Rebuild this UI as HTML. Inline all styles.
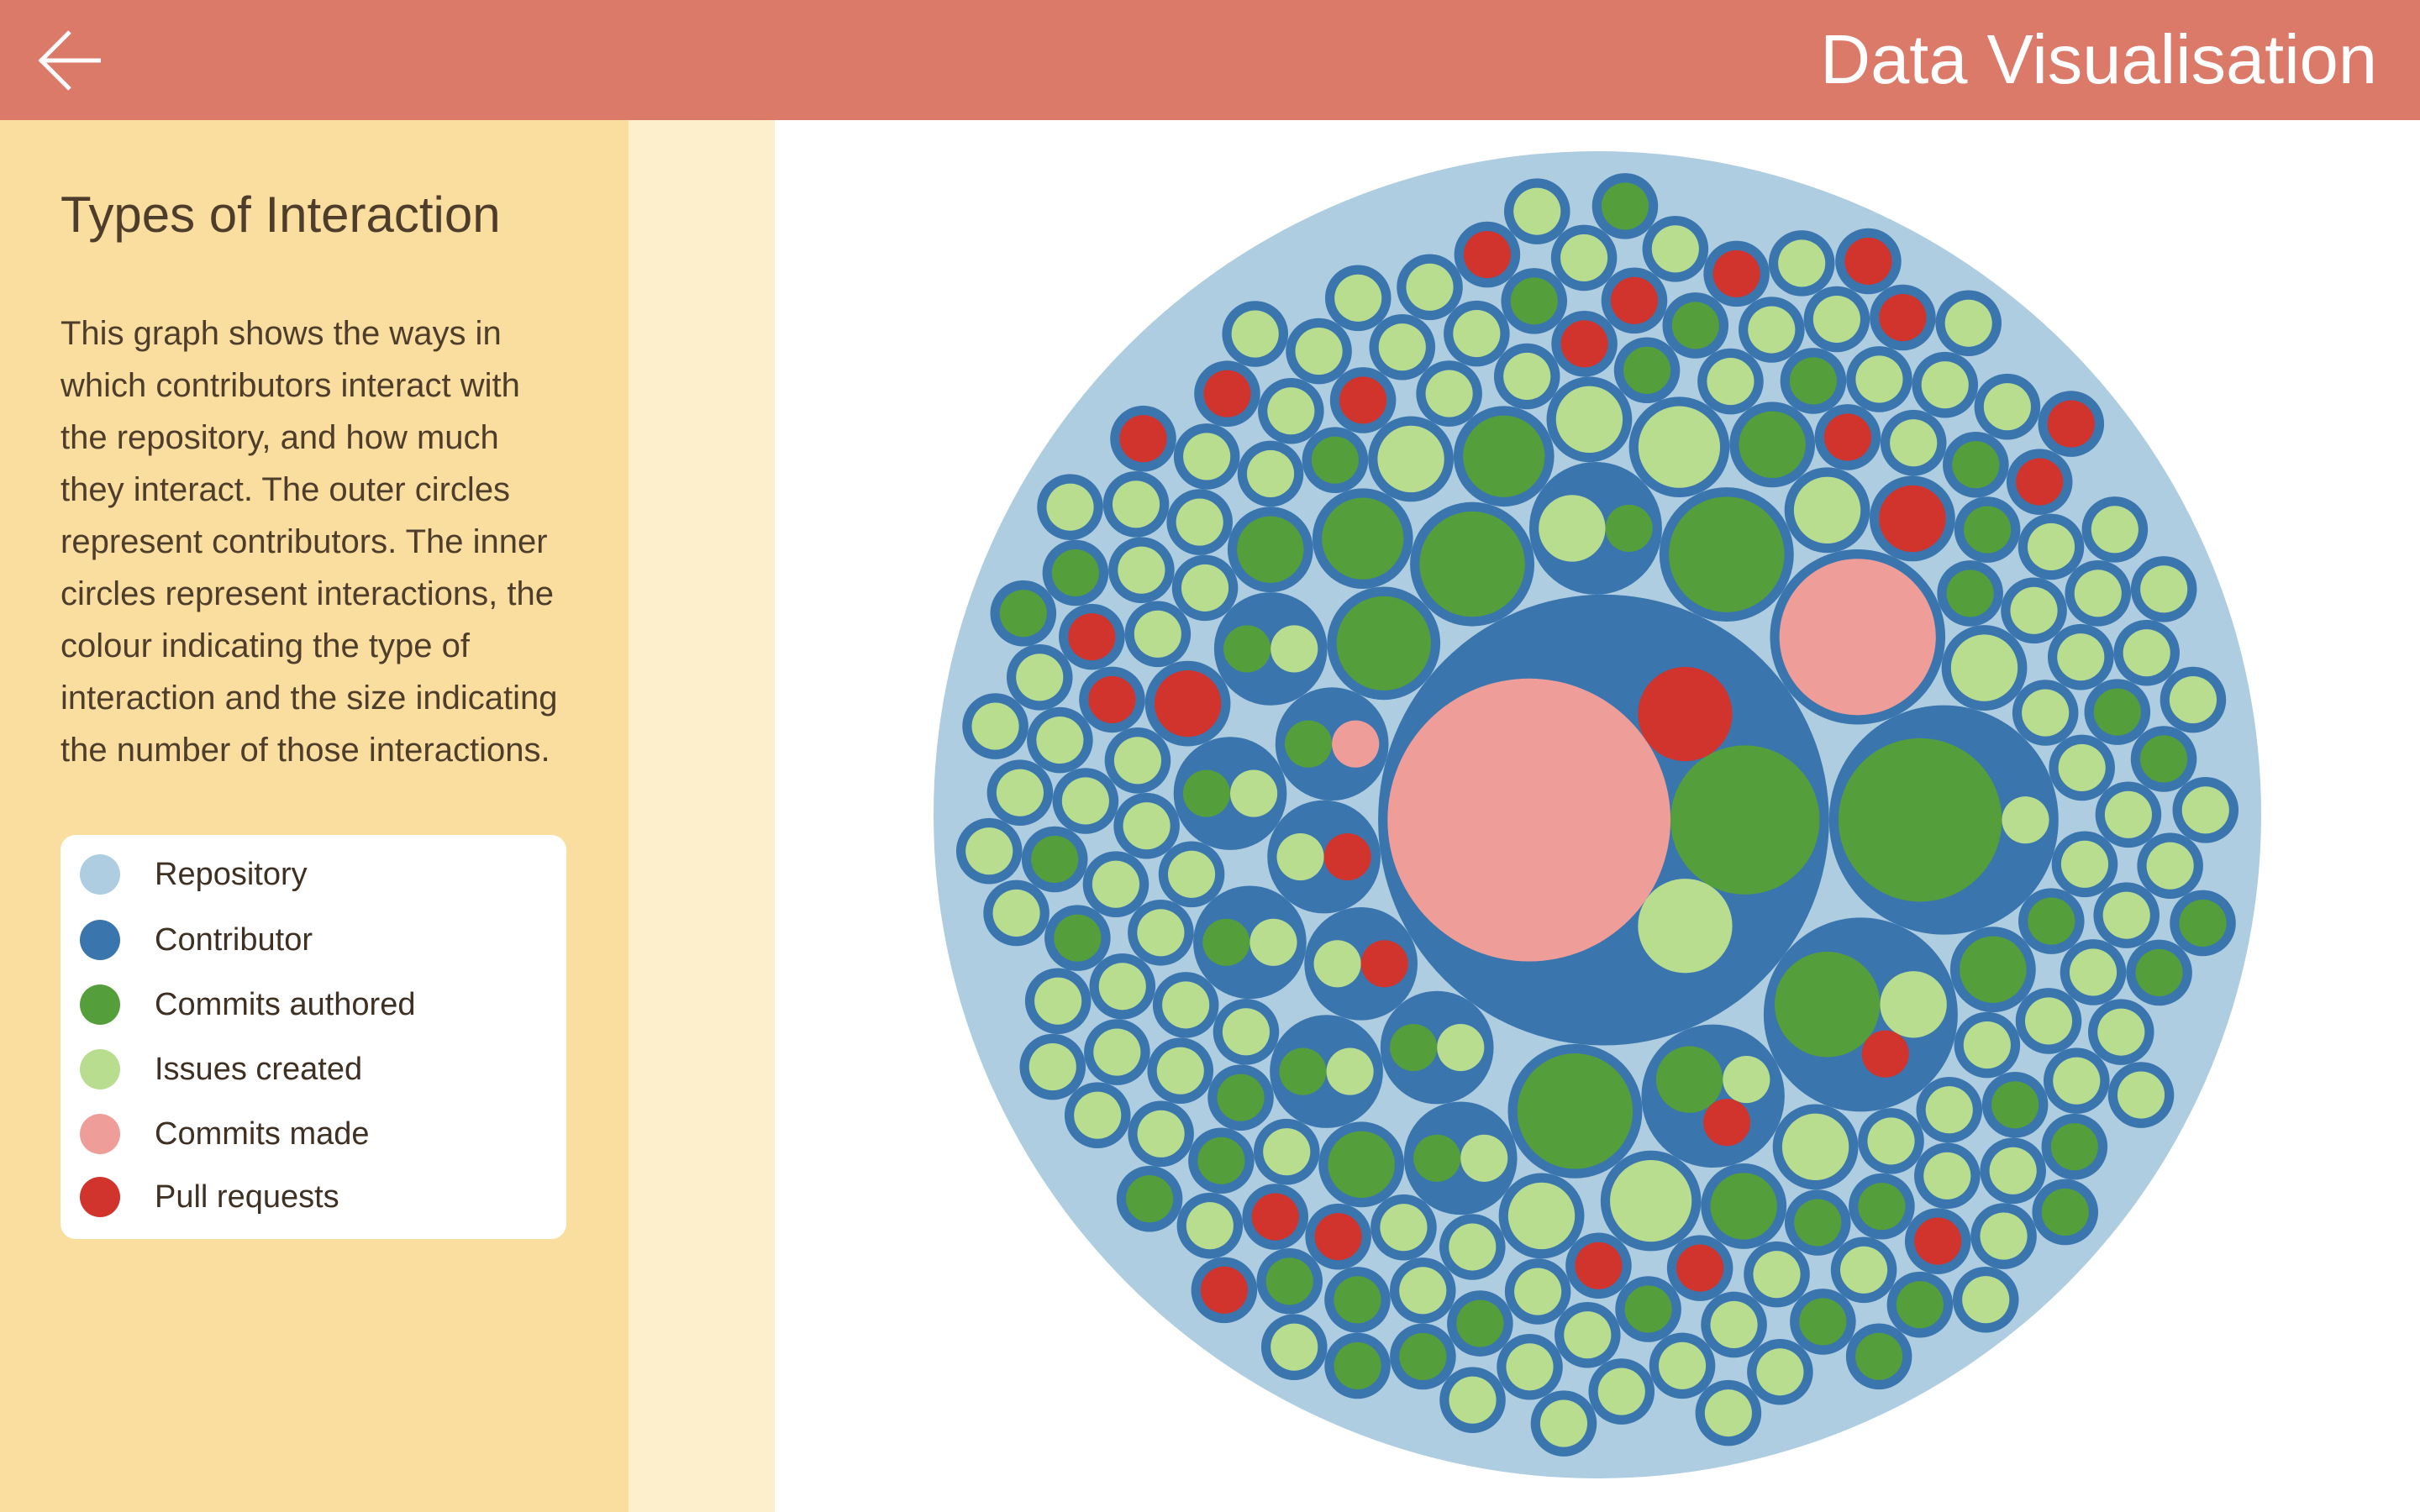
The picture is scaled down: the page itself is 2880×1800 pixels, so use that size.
<!DOCTYPE html>
<html><head><meta charset="utf-8"><style>
html,body{margin:0;padding:0;width:2880px;height:1800px;overflow:hidden;background:#fff;font-family:"Liberation Sans",sans-serif;}
#header{position:absolute;left:0;top:0;width:2880px;height:143px;background:#dc7a6a;}
#title{position:absolute;right:51px;top:16px;font-size:83px;color:#fff;font-weight:300;line-height:110px;}
#panel{position:absolute;left:0;top:143px;width:748px;height:1657px;background:#f9dea0;}
#strip{position:absolute;left:748px;top:143px;width:174px;height:1657px;background:#fdeecc;}
#ptitle{position:absolute;left:72px;top:216px;font-size:60px;line-height:80px;color:#4e3d2a;font-weight:300;}
#pbody{position:absolute;left:72px;top:366px;font-size:40px;line-height:62px;color:#4e3d2a;}
#legend{position:absolute;left:72px;top:994px;width:602px;height:481px;background:#fff;border-radius:18px;}
.li{position:absolute;left:0;height:60px;width:602px;}
.dot{position:absolute;left:23px;top:6px;width:48px;height:48px;border-radius:50%;}
.lt{position:absolute;left:112px;top:8px;font-size:38px;line-height:44px;color:#3e3022;}
svg#chart{position:absolute;left:0;top:0;}
</style></head><body>
<div id="header">
<svg width="160" height="143" style="position:absolute;left:0;top:0"><polyline points="83,38 49,72 83,106" fill="none" stroke="#fff" stroke-width="5"/><line x1="49" y1="72" x2="120" y2="72" stroke="#fff" stroke-width="5"/></svg>
<div id="title">Data Visualisation</div>
</div>
<div id="panel"></div>
<div id="strip"></div>
<div id="ptitle">Types of Interaction</div>
<div id="pbody">This graph shows the ways in<br>which contributors interact with<br>the repository, and how much<br>they interact. The outer circles<br>represent contributors. The inner<br>circles represent interactions, the<br>colour indicating the type of<br>interaction and the size indicating<br>the number of those interactions.</div>
<div id="legend">
<div class="li" style="top:17px"><div class="dot" style="background:#aecde1"></div><div class="lt">Repository</div></div>
<div class="li" style="top:95px"><div class="dot" style="background:#3a75ae"></div><div class="lt">Contributor</div></div>
<div class="li" style="top:172px"><div class="dot" style="background:#559e3c"></div><div class="lt">Commits authored</div></div>
<div class="li" style="top:249px"><div class="dot" style="background:#b9dd8f"></div><div class="lt">Issues created</div></div>
<div class="li" style="top:326px"><div class="dot" style="background:#ee9d99"></div><div class="lt">Commits made</div></div>
<div class="li" style="top:401px"><div class="dot" style="background:#d0342c"></div><div class="lt">Pull requests</div></div>
</div>
<svg id="chart" width="2880" height="1800"></svg>
<script>
const categories = ['Commits authored','Issues created','Commits made','Pull requests'];
const categoryColors = ['#559e3c','#b9dd8f','#ee9d99','#d0342c'];
const commitsAuthored = [10,12,0,6,6,5,5,4,3,3,2,1,1,0,0,1,1,1,1,1,1,0,0,0,0,0,0,0,0,2,2,2,2,2,0,0,
0,0,1,0,0,0,0,1,0,0,1,0,0,0,0,1,0,0,1,0,0,0,0,1,0,0,1,0,0,0,
0,0,1,0,0,0,0,1,0,0,1,0,0,0,0,1,0,0,1,0,0,0,0,1,0,0,1,0,0,0,
0,0,1,0,0,0,0,1,0,0,1,0,0,0,0,1,0,0,1,0,0,0,0,1,0,0,1,0,0,0,
0,0,1,0,0,0,0,1,0,0,1,0,0,0,0,1,0,0,1,0,0,0,0,1,0,0,1,0,0,0,
0,0,1,0,0,0,0,1,0,0,1,0,0,0,0,1,0,0,1,0,0,0,0,1,0,0,1,0,0,0];
const issuesCreated = [4,1,0,0,0,2,0,0,0,0,1,2,0,1,1,1,1,1,1,1,1,3,3,2,2,2,2,2,2,0,0,0,0,0,0,0,
1,1,0,1,1,0,1,0,1,1,0,1,1,0,1,0,1,1,0,1,1,0,1,0,1,1,0,1,0,1,
1,1,0,1,1,0,1,0,1,1,0,1,1,0,1,0,1,1,0,1,1,0,1,0,1,1,0,1,0,1,
1,1,0,1,1,0,1,0,1,1,0,1,1,0,1,0,1,1,0,1,1,0,1,0,1,1,0,1,0,1,
1,1,0,1,1,0,1,0,1,1,0,1,1,0,1,0,1,1,0,1,1,0,1,0,1,1,0,1,0,1,
1,1,0,1,1,0,1,0,1,1,0,1,1,0,1,0,1,1,0,1,1,0,1,0,1,1,0,1,0,1];
const commitsMade = [36,0,11,0,0,0,0,0,0,0,0,0,1,0,0,0,0,0,0,0,0,0,0,0,0,0,0,0,0,0,0,0,0,0,0,0,
0,0,0,0,0,0,0,0,0,0,0,0,0,0,0,0,0,0,0,0,0,0,0,0,0,0,0,0,0,0,
0,0,0,0,0,0,0,0,0,0,0,0,0,0,0,0,0,0,0,0,0,0,0,0,0,0,0,0,0,0,
0,0,0,0,0,0,0,0,0,0,0,0,0,0,0,0,0,0,0,0,0,0,0,0,0,0,0,0,0,0,
0,0,0,0,0,0,0,0,0,0,0,0,0,0,0,0,0,0,0,0,0,0,0,0,0,0,0,0,0,0,
0,0,0,0,0,0,0,0,0,0,0,0,0,0,0,0,0,0,0,0,0,0,0,0,0,0,0,0,0,0];
const pullRequests = [4,0,0,0,0,1,0,0,0,0,1,0,0,1,1,0,0,0,0,0,0,0,0,0,0,0,0,0,0,0,0,0,0,0,2,2,
0,0,0,0,0,1,0,0,0,0,0,0,0,1,0,0,0,0,0,0,0,1,0,0,0,0,0,0,1,0,
0,0,0,0,0,1,0,0,0,0,0,0,0,1,0,0,0,0,0,0,0,1,0,0,0,0,0,0,1,0,
0,0,0,0,0,1,0,0,0,0,0,0,0,1,0,0,0,0,0,0,0,1,0,0,0,0,0,0,1,0,
0,0,0,0,0,1,0,0,0,0,0,0,0,1,0,0,0,0,0,0,0,1,0,0,0,0,0,0,1,0,
0,0,0,0,0,1,0,0,0,0,0,0,0,1,0,0,0,0,0,0,0,1,0,0,0,0,0,0,1,0];

const NS='http://www.w3.org/2000/svg';
const svg=document.getElementById('chart');
const U=15, PAD=6, CX=1901, CY=970, RR=790;

function pack(cs){
  const order=cs.slice().sort((a,b)=>b.r-a.r);
  const placed=[];
  for(const c of order){
    if(placed.length===0){c.x=0;c.y=0;placed.push(c);continue;}
    if(placed.length===1){const p=placed[0];c.x=p.x+p.r+c.r;c.y=p.y;placed.push(c);continue;}
    const cand=[];
    for(let i=0;i<placed.length;i++){const A=placed[i];
      for(let j=i+1;j<placed.length;j++){const B=placed[j];
        const dx=B.x-A.x,dy=B.y-A.y,d=Math.hypot(dx,dy);
        const ra=A.r+c.r,rb=B.r+c.r;
        if(d>ra+rb||d<1e-9)continue;
        const a=(ra*ra-rb*rb+d*d)/(2*d),h2=ra*ra-a*a; if(h2<0)continue;
        const h=Math.sqrt(h2),mx=A.x+a*dx/d,my=A.y+a*dy/d;
        cand.push([mx-h*dy/d,my+h*dx/d]);cand.push([mx+h*dy/d,my-h*dx/d]);
      }}
    cand.sort((p,q)=>(p[0]*p[0]+p[1]*p[1])-(q[0]*q[0]+q[1]*q[1]));
    let ok=null;
    for(const p of cand){let good=true;
      for(const o of placed){if(Math.hypot(p[0]-o.x,p[1]-o.y)<o.r+c.r-1e-6){good=false;break;}}
      if(good){ok=p;break;}}
    if(!ok){let m=0;for(const o of placed)m=Math.max(m,Math.hypot(o.x,o.y)+o.r);ok=[m+c.r,0];}
    c.x=ok[0];c.y=ok[1];placed.push(c);
  }
  let x0=1e9,x1=-1e9,y0=1e9,y1=-1e9;
  for(const c of cs){x0=Math.min(x0,c.x-c.r);x1=Math.max(x1,c.x+c.r);y0=Math.min(y0,c.y-c.r);y1=Math.max(y1,c.y+c.r);}
  const mx=(x0+x1)/2,my=(y0+y1)/2;let R=0;
  for(const c of cs){c.x-=mx;c.y-=my;R=Math.max(R,Math.hypot(c.x,c.y)+c.r);}
  return R;
}

const contributors=[];
for(let i=0;i<commitsAuthored.length;i++){
  const vals=[commitsAuthored[i],issuesCreated[i],commitsMade[i],pullRequests[i]];
  const leaves=[];
  vals.forEach((v,k)=>{if(v>0)leaves.push({k:k,v:v,r:U*Math.sqrt(v)});});
  if(!leaves.length)continue;
  const R=pack(leaves);
  contributors.push({i:i,leaves:leaves,r:R+PAD});
}
const Rall=pack(contributors)+PAD;
const s=RR/Rall;

function circ(cx,cy,r,fill,name){
  const e=document.createElementNS(NS,'circle');
  e.setAttribute('cx',cx);e.setAttribute('cy',cy);e.setAttribute('r',r);e.setAttribute('fill',fill);
  
  
  svg.appendChild(e);return e;
}
circ(CX,CY,RR,'#aecde1','repository-circle');
for(const c of contributors){
  const x=CX+c.x*s,y=CY+c.y*s;
  circ(x,y,c.r*s,'#3a75ae','contributor-circle');
  for(const l of c.leaves){
    circ(x+l.x*s,y+l.y*s,l.r*s,categoryColors[l.k],'interaction-'+categories[l.k].toLowerCase().replace(/ /g,'-'));
  }
}
</script>
</body></html>
